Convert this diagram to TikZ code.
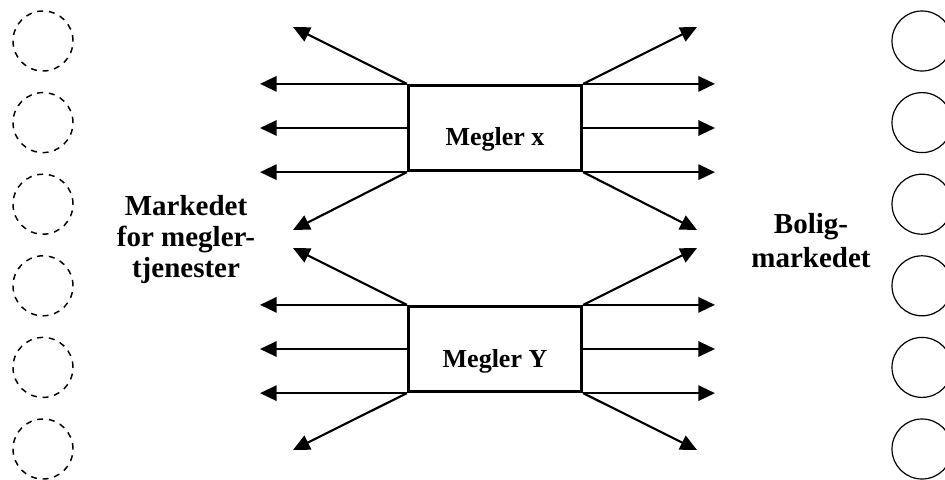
\documentclass[tikz,border=0pt]{standalone}
\usepackage{fontspec}
\setmainfont{Liberation Serif}
\usetikzlibrary{arrows.meta}
\begin{document}
\begin{tikzpicture}[x=0.75pt,y=-0.75pt,
  agent/.style={draw,line width=2.2pt,minimum width=130pt,minimum height=64pt,inner sep=0pt},
  agenttext/.style={anchor=base,inner sep=0pt,font=\fontsize{19.5}{23}\selectfont\bfseries},
  marketlabel/.style={anchor=base,align=center,inner sep=0pt},
  flow/.style={line width=1.6pt,-{Triangle[length=12.5pt,width=11.5pt]}},
  buyer/.style={circle,draw,line width=1.1pt,dash pattern=on 4.5pt off 4.3pt,minimum size=45pt,inner sep=0pt},
  home/.style={circle,draw,line width=0.9pt,minimum size=45pt,inner sep=0pt}]
\useasboundingbox (0,0) rectangle (945,479);

% market participants on both sides
\foreach \i in {0,...,5} {
  \node[buyer] (b\i) at (43,41+81.6*\i) {};
  \node[home] (h\i) at (922,41+81.6*\i) {};
}

% the two brokers
\node[agent] (mx) at (495,128) {};
\node[agenttext] (mxt) at (495,145) {Megler x};
\node[agent] (my) at (495,349) {};
\node[agenttext] (myt) at (495,367) {Megler Y};

% market labels (base anchor sits on the last line)
\node[marketlabel,font=\fontsize{21.75}{23.25}\selectfont\bfseries] (mkt) at (186,277)
  {Markedet\\for megler-\\tjenester};
\node[marketlabel,font=\fontsize{21.75}{25.5}\selectfont\bfseries] (bolig) at (811,267)
  {Bolig-\\markedet};

% arrow ends
\coordinate (ltip) at (260,0);
\coordinate (rtip) at (715,0);
\coordinate (xnw) at (293,27);
\coordinate (xne) at (697,27);
\coordinate (xsw) at (293,230);
\coordinate (xse) at (697,230);
\coordinate (ynw) at (293,248);
\coordinate (yne) at (697,248);
\coordinate (ysw) at (293,450);
\coordinate (yse) at (697,450);

\foreach \b/\p in {mx/x,my/y} {
  \draw[flow] (\b.north west) -- (\b.north west -| ltip);
  \draw[flow] (\b.west) -- (\b.west -| ltip);
  \draw[flow] (\b.south west) -- (\b.south west -| ltip);
  \draw[flow] (\b.north east) -- (\b.north east -| rtip);
  \draw[flow] (\b.east) -- (\b.east -| rtip);
  \draw[flow] (\b.south east) -- (\b.south east -| rtip);
  \draw[flow] (\b.north west) -- (\p nw);
  \draw[flow] (\b.north east) -- (\p ne);
  \draw[flow] (\b.south west) -- (\p sw);
  \draw[flow] (\b.south east) -- (\p se);
}
\end{tikzpicture}
\end{document}
